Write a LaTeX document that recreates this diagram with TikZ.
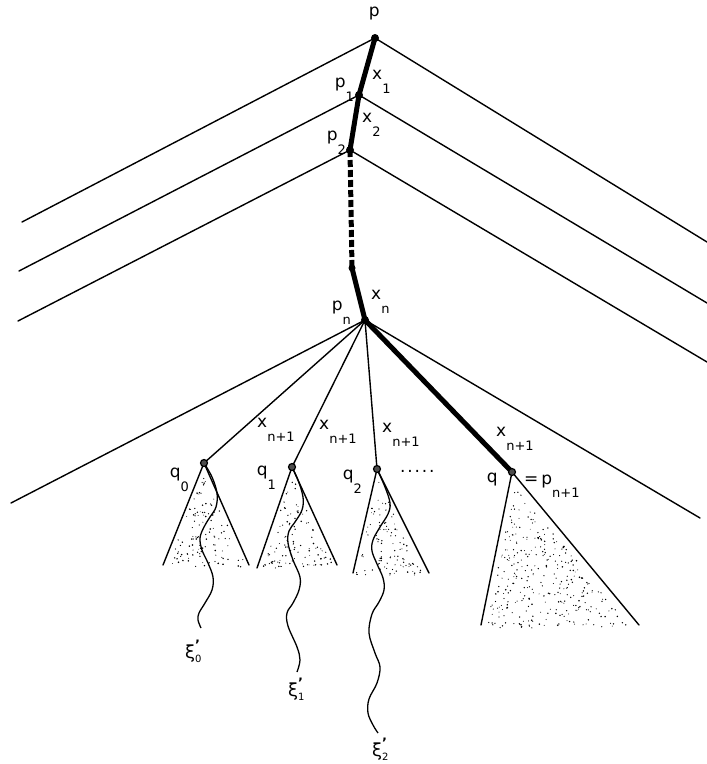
\documentclass[tikz,border=0pt]{standalone}
\usepackage{fontspec}
\setmainfont{DejaVu Sans}
\pgfdeclarelayer{bg}
\pgfsetlayers{bg,main}
\newcommand\lbl[2]{#1\raisebox{-13.5pt}{\fontsize{13}{13}\selectfont #2}}
\newcommand\xip[1]{ξ\makebox[0pt][l]{\raisebox{8.5pt}{\fontsize{13}{13}\selectfont\bfseries '}}\raisebox{-4pt}{\fontsize{10}{10}\selectfont #1}}
\newcommand\stipple[7]{%
  \foreach \k in {1,...,#7}{%
    \pgfmathsetmacro\ua{rnd}%
    \pgfmathsetmacro\va{rnd}%
    \pgfmathsetmacro\ub{(\ua+\va>1)?(1-\ua):\ua}%
    \pgfmathsetmacro\vb{(\ua+\va>1)?(1-\va):\va}%
    \pgfmathsetmacro\rr{0.45+0.4*rnd}%
    \fill ({#1+0.03*(#3+#5-2*#1)+0.94*(\ub*(#3-#1)+\vb*(#5-#1))},{#2+0.05*(#4+#6-2*#2)+0.92*(\ub*(#4-#2)+\vb*(#6-#2))}) circle (\rr pt);
  }}
\tikzset{
  thin line/.style={line width=1.4pt, line cap=round},
  heavy/.style={line width=5pt, line cap=round},
  heavydash/.style={line width=5pt, dash pattern=on 7pt off 3pt},
  dot/.style={circle, fill=black, inner sep=0pt, minimum size=8pt},
  qdot/.style={circle, draw=black, fill=black!70, line width=1.2pt, inner sep=0pt, minimum size=7pt},
  lab/.style={anchor=base west, inner sep=0pt, font=\fontsize{17}{19}\selectfont},
  xlab/.style={anchor=base west, inner sep=0pt, font=\fontsize{18}{20}\selectfont},
  wave/.style={line width=1.3pt}
}
\begin{document}
\begin{tikzpicture}[x=1pt,y=-1pt]
\useasboundingbox (0,0) rectangle (707,764);
\begin{pgfonlayer}{bg}
\fill[white] (0,0) rectangle (707,764);
\end{pgfonlayer}
% main nodes
\node[dot] (p) at (375,38) {};
\node[dot] (p1) at (359,95) {};
\node[dot] (p2) at (350,150) {};
\node[dot, minimum size=7pt] (pm) at (352,268) {};
\node[dot] (pn) at (365,320) {};
\node[qdot] (q0) at (204,463) {};
\node[qdot] (q1) at (292,467) {};
\node[qdot] (q2) at (377,469) {};
\node[qdot] (q) at (512,472) {};
% free ends
\coordinate (L1) at (22,222);  \coordinate (R1) at (707,242);
\coordinate (L2) at (19,271);  \coordinate (R2) at (707,303);
\coordinate (L3) at (18,321);  \coordinate (R3) at (707,362);
\coordinate (L4) at (11,503);  \coordinate (R4) at (700,518);
\coordinate (a0) at (163,565); \coordinate (b0) at (249,565);
\coordinate (a1) at (257,568); \coordinate (b1) at (337,565);
\coordinate (a2) at (353,573); \coordinate (b2) at (429,573);
\coordinate (a3) at (481,625); \coordinate (b3) at (639,625);
\begin{pgfonlayer}{bg}
% stippling
\pgfmathsetseed{4711}
\stipple{204}{463}{163}{565}{249}{565}{115}
\stipple{292}{467}{257}{568}{337}{565}{105}
\stipple{377}{469}{353}{573}{429}{573}{105}
\stipple{512}{472}{481}{625}{639}{625}{310}
% thin tree lines
\draw[thin line] (L1) -- (p.center) -- (R1);
\draw[thin line] (L2) -- (p1.center) -- (R2);
\draw[thin line] (L3) -- (p2.center) -- (R3);
\draw[thin line] (L4) -- (pn.center) -- (R4);
\draw[thin line] (pn.center) -- (q0.center);
\draw[thin line] (pn.center) -- (q1.center);
\draw[thin line] (pn.center) -- (q2.center);
% cones
\draw[thin line] (a0) -- (q0.center) -- (b0);
\draw[thin line] (a1) -- (q1.center) -- (b1);
\draw[thin line] (a2) -- (q2.center) -- (b2);
\draw[thin line] (a3) -- (q.center) -- (b3);
% heavy path
\draw[heavy] (p.center) -- (p1.center) -- (p2.center);
\draw[heavydash] (p2.center) -- (pm.center);
\draw[heavy] (pm.center) -- (pn.center) -- (q.center);
% waves
\draw[wave] plot[smooth, tension=0.6] coordinates {(q0.center) (212,477) (217,493) (216,507) (210,517) (204,527) (200,538) (202,550) (208,563) (213,577) (212,590) (205,603) (199,613) (198,620) (201,628)};
\draw[wave] plot[smooth, tension=0.6] coordinates {(q1.center) (298,480) (303,497) (302,510) (295,522) (289,531) (288,543) (293,560) (300,577) (299,590) (293,603) (287,613) (288,626) (297,647) (300,660) (297,672)};
\draw[wave] plot[smooth, tension=0.6] coordinates {(q2.center) (385,487) (390,503) (388,514) (380,527) (373,540) (372,551) (377,564) (383,578) (384,590) (379,602) (372,614) (369,633) (375,653) (380,667) (377,683) (369,699) (368,713) (373,725) (378,733)};
\end{pgfonlayer}
% labels
\node[lab] (tp) at (368.6,16.9) {p};
\node[lab] (tx1) at (372,79.6) {\lbl{x}{1}};
\node[lab] (tp1) at (334.6,87.9) {\lbl{p}{1}};
\node[lab] (tx2) at (362,122.6) {\lbl{x}{2}};
\node[lab] (tp2) at (326.6,140.9) {\lbl{p}{2}};
\node[lab] (txn) at (371,299.6) {\lbl{x}{n}};
\node[lab] (tpn) at (331.6,310.9) {\lbl{p}{n}};
\node[lab] (tx3) at (257,427.6) {\lbl{x}{n+1}};
\node[lab] (tx4) at (319,429.6) {\lbl{x}{n+1}};
\node[lab] (tx5) at (382,432.6) {\lbl{x}{n+1}};
\node[lab] (tx6) at (496,436.6) {\lbl{x}{n+1}};
\node[lab] (tq0) at (169.6,477.9) {\lbl{q}{0}};
\node[lab] (tq1) at (256.6,475.9) {\lbl{q}{1}};
\node[lab] (tq2) at (342.6,479.9) {\lbl{q}{2}};
\node[lab] (tq) at (486.6,482.9) {q};
\node[lab] (tpn1) at (524,484) {=\kern3pt\lbl{p}{n+1}};
\node[lab] (tdots) at (400,472) {.\kern1.8pt.\kern1.8pt.\kern1.8pt.\kern1.8pt.};
\node[xlab] (xi0) at (185,658) {\xip{0}};
\node[xlab] (xi1) at (288,696) {\xip{1}};
\node[xlab] (xi2) at (372,756) {\xip{2}};
\end{tikzpicture}
\end{document}
